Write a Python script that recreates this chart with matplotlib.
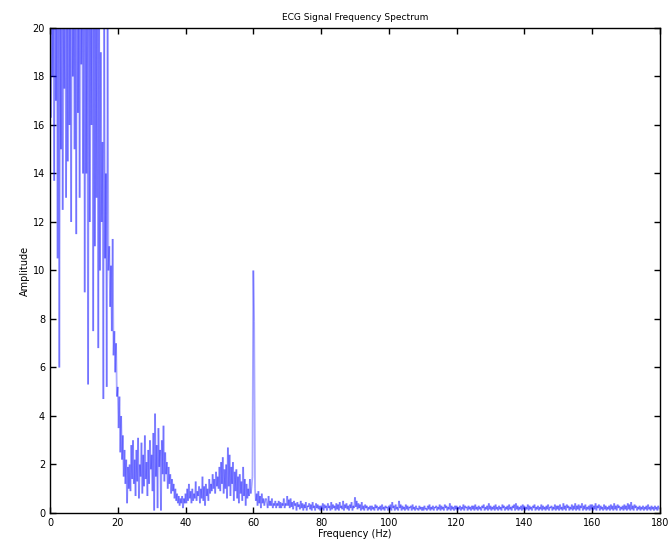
import numpy as np
import matplotlib
matplotlib.use("Agg")
import matplotlib.pyplot as plt
from matplotlib.collections import LineCollection

# amplitude spectrum, one value every 0.25 Hz (5 Hz per list)
step = 0.25
amp_0_5 = [21, 16.3, 23, 18, 20.5, 13.7, 24, 17, 22, 10.5, 25, 6.0, 21, 15, 23.5, 12.5, 20.5, 17.5, 24, 13]
amp_5_10 = [22, 14.5, 25, 16, 21, 12, 26, 18, 23, 15, 24, 11.5, 27, 16.5, 22, 13, 25, 18.5, 21, 14]
amp_10_15 = [24, 9.1, 22, 14, 20, 5.3, 23, 12, 21, 16, 25, 7.5, 22, 11, 20, 13, 24, 6.8, 21, 10]
amp_15_20 = [19, 12, 15.3, 4.7, 21, 10.5, 14, 5.2, 20.5, 10, 11, 8.5, 10.2, 7.5, 11.3, 6.5, 7.5, 5.8, 7, 4.8]
amp_20_25 = [5.2, 3.5, 4.8, 2.5, 4.0, 2.2, 3.2, 1.5, 2.6, 1.2, 2.2, 0.4, 1.9, 1.0, 2.0, 0.9, 2.8, 1.4, 3.0, 1.2]
amp_25_30 = [2.2, 0.7, 2.6, 1.3, 3.1, 0.6, 2.0, 1.5, 2.9, 0.8, 2.4, 1.1, 3.2, 1.4, 2.1, 0.7, 2.6, 1.2, 3.0, 1.8]
amp_30_35 = [2.4, 0.9, 3.3, 0.1, 4.1, 1.5, 2.8, 0.2, 3.5, 1.9, 2.6, 0.1, 3.0, 1.6, 3.6, 1.3, 2.5, 1.6, 2.1, 1.0]
amp_35_40 = [1.9, 1.2, 1.6, 0.8, 1.4, 0.9, 1.2, 0.6, 1.0, 0.5, 0.8, 0.4, 0.7, 0.3, 0.6, 0.4, 0.7, 0.2, 0.6, 0.4]
amp_40_45 = [0.8, 0.4, 1.0, 0.5, 1.2, 0.6, 0.9, 0.4, 1.0, 0.5, 0.8, 0.6, 1.3, 0.5, 0.9, 0.7, 1.1, 0.4, 1.0, 0.6]
amp_45_50 = [1.5, 0.5, 1.1, 0.3, 1.2, 0.7, 1.0, 0.5, 1.4, 0.8, 1.2, 0.9, 1.6, 1.0, 1.4, 0.8, 1.7, 1.1, 1.5, 1.0]
amp_50_55 = [1.9, 0.9, 2.1, 1.2, 2.3, 0.8, 1.8, 1.0, 2.0, 0.6, 2.7, 1.1, 2.4, 0.7, 1.9, 1.2, 2.1, 0.5, 1.7, 0.9]
amp_55_60 = [1.8, 0.6, 1.5, 0.4, 1.6, 0.8, 1.3, 0.5, 1.9, 0.7, 1.4, 0.3, 1.2, 0.6, 1.0, 0.7, 1.4, 0.8, 1.1, 1.5]
amp_60_65 = [10.0, 7.9, 1.0, 0.5, 0.8, 0.3, 0.9, 0.4, 0.7, 0.2, 0.8, 0.4, 0.6, 0.3, 0.5, 0.6, 0.4, 0.2, 0.7, 0.3]
amp_65_70 = [0.5, 0.3, 0.6, 0.2, 0.4, 0.3, 0.5, 0.2, 0.4, 0.3, 0.5, 0.2, 0.45, 0.2, 0.4, 0.3, 0.6, 0.2, 0.4, 0.3]
amp_70_75 = [0.7, 0.3, 0.55, 0.2, 0.6, 0.25, 0.45, 0.15, 0.5, 0.3, 0.4, 0.1, 0.45, 0.25, 0.35, 0.15, 0.5, 0.2, 0.4, 0.1]
amp_75_80 = [0.35, 0.2, 0.45, 0.1, 0.3, 0.25, 0.4, 0.15, 0.35, 0.1, 0.45, 0.2, 0.3, 0.1, 0.4, 0.2, 0.35, 0.15, 0.3, 0.1]
amp_80_85 = [0.3, 0.15, 0.4, 0.1, 0.35, 0.2, 0.3, 0.1, 0.4, 0.2, 0.3, 0.1, 0.45, 0.15, 0.35, 0.2, 0.3, 0.1, 0.4, 0.15]
amp_85_90 = [0.35, 0.1, 0.45, 0.2, 0.3, 0.15, 0.5, 0.1, 0.35, 0.2, 0.4, 0.15, 0.3, 0.1, 0.35, 0.2, 0.45, 0.1, 0.3, 0.2]
amp_90_95 = [0.65, 0.25, 0.5, 0.15, 0.4, 0.2, 0.35, 0.1, 0.45, 0.15, 0.3, 0.1, 0.35, 0.2, 0.3, 0.1, 0.25, 0.15, 0.3, 0.1]
amp_95_100 = [0.3, 0.15, 0.25, 0.1, 0.35, 0.2, 0.3, 0.1, 0.25, 0.15, 0.3, 0.1, 0.35, 0.15, 0.25, 0.1, 0.3, 0.2, 0.25, 0.1]
amp_100_105 = [0.3, 0.15, 0.35, 0.1, 0.45, 0.2, 0.3, 0.1, 0.35, 0.15, 0.25, 0.1, 0.5, 0.2, 0.35, 0.1, 0.3, 0.15, 0.25, 0.1]
amp_105_110 = [0.35, 0.15, 0.3, 0.1, 0.25, 0.2, 0.3, 0.1, 0.35, 0.15, 0.25, 0.1, 0.3, 0.15, 0.2, 0.1, 0.3, 0.15, 0.25, 0.1]
amp_110_115 = [0.25, 0.1, 0.3, 0.15, 0.2, 0.1, 0.3, 0.15, 0.35, 0.1, 0.25, 0.15, 0.3, 0.1, 0.25, 0.2, 0.3, 0.1, 0.25, 0.15]
amp_115_120 = [0.35, 0.1, 0.3, 0.15, 0.25, 0.1, 0.35, 0.2, 0.3, 0.1, 0.25, 0.15, 0.4, 0.1, 0.3, 0.15, 0.25, 0.1, 0.3, 0.15]
amp_120_125 = [0.3, 0.1, 0.25, 0.15, 0.3, 0.1, 0.25, 0.15, 0.35, 0.1, 0.3, 0.2, 0.25, 0.1, 0.3, 0.15, 0.25, 0.1, 0.3, 0.15]
amp_125_130 = [0.3, 0.1, 0.35, 0.15, 0.25, 0.1, 0.3, 0.15, 0.25, 0.1, 0.3, 0.2, 0.35, 0.1, 0.25, 0.15, 0.3, 0.1, 0.4, 0.15]
amp_130_135 = [0.3, 0.1, 0.25, 0.15, 0.3, 0.1, 0.35, 0.15, 0.25, 0.1, 0.3, 0.15, 0.25, 0.1, 0.35, 0.2, 0.3, 0.1, 0.25, 0.15]
amp_135_140 = [0.3, 0.1, 0.35, 0.15, 0.25, 0.1, 0.3, 0.2, 0.35, 0.1, 0.4, 0.15, 0.3, 0.1, 0.25, 0.15, 0.3, 0.1, 0.35, 0.15]
amp_140_145 = [0.3, 0.1, 0.25, 0.15, 0.35, 0.1, 0.3, 0.15, 0.25, 0.1, 0.3, 0.2, 0.35, 0.1, 0.25, 0.15, 0.3, 0.1, 0.25, 0.15]
amp_145_150 = [0.35, 0.1, 0.3, 0.15, 0.25, 0.1, 0.3, 0.15, 0.35, 0.1, 0.25, 0.2, 0.3, 0.1, 0.25, 0.15, 0.35, 0.1, 0.3, 0.15]
amp_150_155 = [0.3, 0.1, 0.35, 0.15, 0.25, 0.1, 0.4, 0.15, 0.3, 0.1, 0.35, 0.2, 0.3, 0.1, 0.25, 0.15, 0.35, 0.1, 0.3, 0.15]
amp_155_160 = [0.4, 0.1, 0.3, 0.15, 0.35, 0.1, 0.3, 0.2, 0.4, 0.1, 0.3, 0.15, 0.35, 0.1, 0.25, 0.15, 0.3, 0.1, 0.35, 0.15]
amp_160_165 = [0.35, 0.1, 0.3, 0.15, 0.4, 0.1, 0.3, 0.2, 0.35, 0.1, 0.3, 0.15, 0.25, 0.1, 0.35, 0.15, 0.3, 0.1, 0.25, 0.15]
amp_165_170 = [0.3, 0.1, 0.35, 0.15, 0.3, 0.1, 0.4, 0.15, 0.3, 0.1, 0.35, 0.2, 0.3, 0.1, 0.25, 0.15, 0.3, 0.1, 0.35, 0.15]
amp_170_175 = [0.3, 0.1, 0.4, 0.15, 0.35, 0.1, 0.45, 0.15, 0.3, 0.1, 0.35, 0.2, 0.3, 0.1, 0.25, 0.15, 0.3, 0.1, 0.25, 0.15]
amp_175_180 = [0.3, 0.1, 0.25, 0.15, 0.3, 0.1, 0.35, 0.15, 0.25, 0.1, 0.3, 0.15, 0.25, 0.1, 0.3, 0.15, 0.25, 0.1, 0.3, 0.15]

amp = np.concatenate([
    amp_0_5, amp_5_10, amp_10_15, amp_15_20, amp_20_25, amp_25_30, amp_30_35, amp_35_40,
    amp_40_45, amp_45_50, amp_50_55, amp_55_60, amp_60_65, amp_65_70, amp_70_75, amp_75_80,
    amp_80_85, amp_85_90, amp_90_95, amp_95_100, amp_100_105, amp_105_110, amp_110_115,
    amp_115_120, amp_120_125, amp_125_130, amp_130_135, amp_135_140, amp_140_145,
    amp_145_150, amp_150_155, amp_155_160, amp_160_165, amp_165_170, amp_170_175, amp_175_180])
freq = np.arange(len(amp)) * step

fig = plt.figure(figsize=(6.7, 5.49), dpi=100)
ax = fig.add_axes([0.0746, 0.0656, 0.9104, 0.8834])

# separate segments so overlapping strokes darken like the original
pts = np.column_stack([freq, amp])
segs = np.stack([pts[:-1], pts[1:]], axis=1)
lc = LineCollection(segs, colors="blue", linewidths=1.3, alpha=0.33)
ax.add_collection(lc)

ax.set_xlim(0, 180)
ax.set_ylim(0, 20)
ax.set_xticks(np.arange(0, 181, 20))
ax.set_yticks(np.arange(0, 21, 2))
ax.tick_params(direction="in", top=True, right=True, length=4, width=1, labelsize=7)
for s in ax.spines.values():
    s.set_linewidth(1)
ax.set_title("ECG Signal Frequency Spectrum", fontsize=6.5, pad=6)
ax.set_xlabel("Frequency (Hz)", fontsize=7, labelpad=1)
ax.set_ylabel("Amplitude", fontsize=7, labelpad=2)

fig.savefig("out.png", dpi=100)
